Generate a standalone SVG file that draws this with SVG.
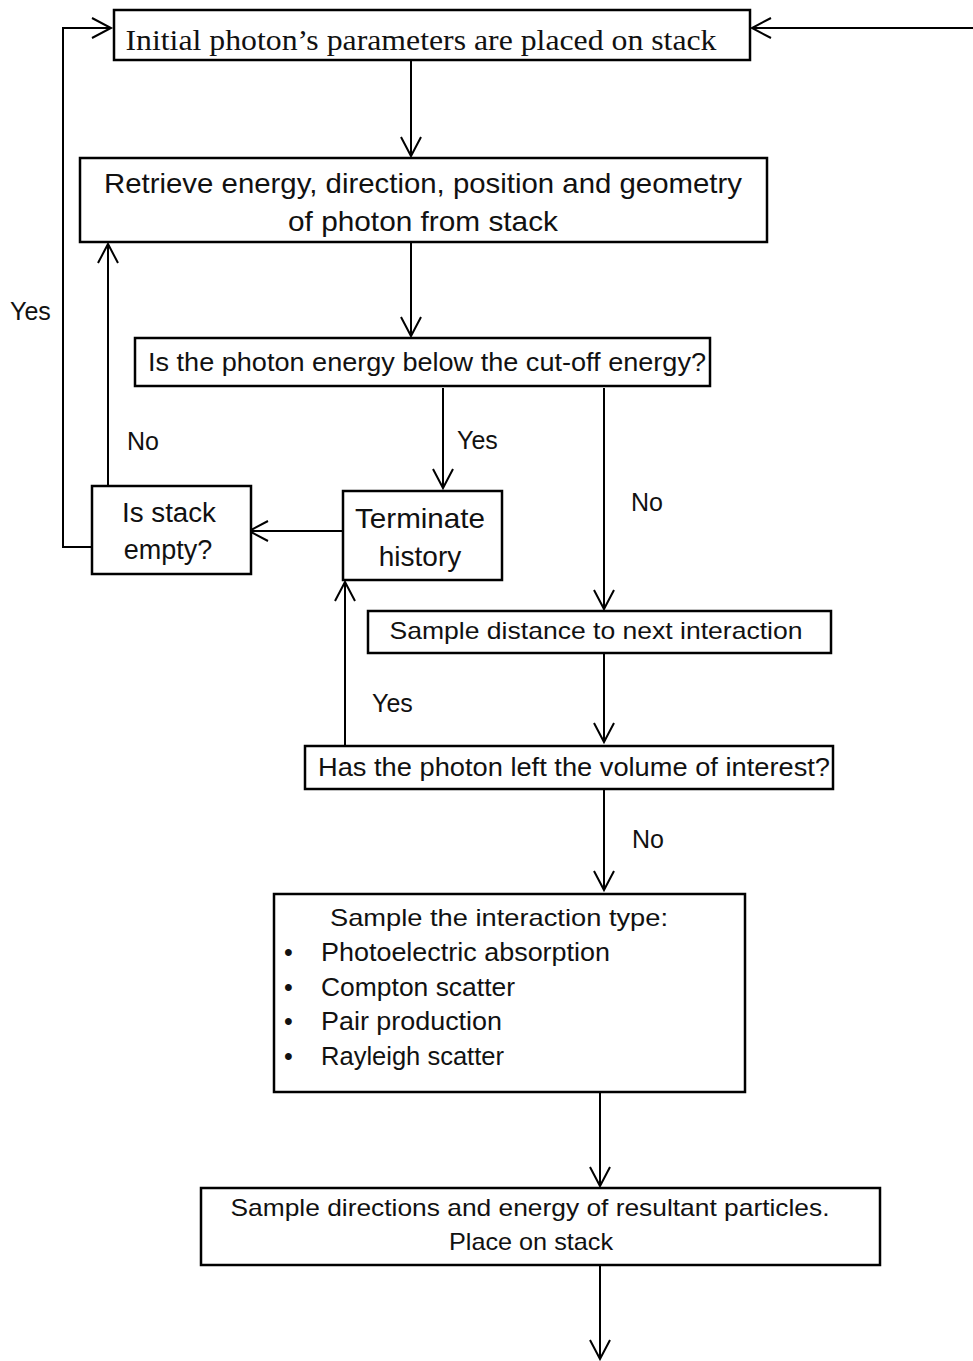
<svg xmlns="http://www.w3.org/2000/svg" width="973" height="1361" viewBox="0 0 973 1361">
<defs>
<style>
.box{fill:#fff;stroke:#000;stroke-width:2.5}
.ln{fill:none;stroke:#000;stroke-width:2}
.t{font-family:"Liberation Sans",Arial,sans-serif;fill:#111;text-anchor:middle;dominant-baseline:central}
.l{font-family:"Liberation Sans",Arial,sans-serif;fill:#111;font-size:25px;dominant-baseline:central}
.s{font-family:"Liberation Serif","Times New Roman",serif;fill:#111;text-anchor:middle;dominant-baseline:central}
</style>
<marker id="a" markerUnits="userSpaceOnUse" markerWidth="24" markerHeight="24" refX="19" refY="10" orient="auto" overflow="visible">
<path d="M0,0 L19,10 L0,20" fill="none" stroke="#000" stroke-width="2"/>
</marker>
</defs>
<rect width="973" height="1361" fill="#fff"/>
<g id="connectors">
<path class="ln" d="M411,61 V156" marker-end="url(#a)"/>
<path class="ln" d="M411,243 V336" marker-end="url(#a)"/>
<path class="ln" d="M443,388 V488" marker-end="url(#a)"/>
<path class="ln" d="M604,388 V609" marker-end="url(#a)"/>
<path class="ln" d="M343,531 H249" marker-end="url(#a)"/>
<path class="ln" d="M108,490 V244" marker-end="url(#a)"/>
<path class="ln" d="M91,547 H63 V28 H111" marker-end="url(#a)"/>
<path class="ln" d="M973,28 H752" marker-end="url(#a)"/>
<path class="ln" d="M604,654 V742" marker-end="url(#a)"/>
<path class="ln" d="M345,745 V582" marker-end="url(#a)"/>
<path class="ln" d="M604,790 V890" marker-end="url(#a)"/>
<path class="ln" d="M600,1093 V1186" marker-end="url(#a)"/>
<path class="ln" d="M600,1266 V1359" marker-end="url(#a)"/>
<text class="l" x="457" y="440">Yes</text>
<text class="l" x="631" y="502">No</text>
<text class="l" x="127" y="441">No</text>
<text class="l" x="10" y="311">Yes</text>
<text class="l" x="372" y="703">Yes</text>
<text class="l" x="632" y="839">No</text>
</g>
<g id="n1">
<rect class="box" x="114" y="10" width="636" height="50"/>
<text class="s" x="421" y="40" font-size="29" textLength="591" lengthAdjust="spacingAndGlyphs">Initial photon’s parameters are placed on stack</text>
</g>
<g id="n2">
<rect class="box" x="80" y="158" width="687" height="84"/>
<text class="t" x="423" y="183" font-size="28" textLength="638" lengthAdjust="spacingAndGlyphs">Retrieve energy, direction, position and geometry</text>
<text class="t" x="423" y="221" font-size="28" textLength="270" lengthAdjust="spacingAndGlyphs">of photon from stack</text>
</g>
<g id="n3">
<rect class="box" x="135" y="338" width="575" height="48"/>
<text class="t" x="427" y="362" font-size="26" textLength="558" lengthAdjust="spacingAndGlyphs">Is the photon energy below the cut-off energy?</text>
</g>
<g id="n4">
<rect class="box" x="343" y="491" width="159" height="89"/>
<text class="t" x="420" y="518" font-size="28" textLength="130" lengthAdjust="spacingAndGlyphs">Terminate</text>
<text class="t" x="420" y="556" font-size="28">history</text>
</g>
<g id="n5">
<rect class="box" x="92" y="486" width="159" height="88"/>
<text class="t" x="169" y="513" font-size="27" textLength="94" lengthAdjust="spacingAndGlyphs">Is stack</text>
<text class="t" x="168" y="550" font-size="27">empty?</text>
</g>
<g id="n6">
<rect class="box" x="368" y="611" width="463" height="42"/>
<text class="t" x="596" y="630" font-size="24" textLength="413" lengthAdjust="spacingAndGlyphs">Sample distance to next interaction</text>
</g>
<g id="n7">
<rect class="box" x="305" y="746" width="528" height="43"/>
<text class="t" x="574" y="767" font-size="26" textLength="512" lengthAdjust="spacingAndGlyphs">Has the photon left the volume of interest?</text>
</g>
<g id="n8">
<rect class="box" x="274" y="894" width="471" height="198"/>
<text class="t" x="499" y="917" font-size="24" textLength="338" lengthAdjust="spacingAndGlyphs">Sample  the interaction type:</text>
<text class="l" x="284" y="952" font-size="22">•</text>
<text class="l" x="321" y="952" font-size="24" textLength="289" lengthAdjust="spacingAndGlyphs">Photoelectric absorption</text>
<text class="l" x="284" y="987" font-size="22">•</text>
<text class="l" x="321" y="987" font-size="24" textLength="194" lengthAdjust="spacingAndGlyphs">Compton scatter</text>
<text class="l" x="284" y="1021" font-size="22">•</text>
<text class="l" x="321" y="1021" font-size="24" textLength="181" lengthAdjust="spacingAndGlyphs">Pair production</text>
<text class="l" x="284" y="1056" font-size="22">•</text>
<text class="l" x="321" y="1056" font-size="24" textLength="183" lengthAdjust="spacingAndGlyphs">Rayleigh scatter</text>
</g>
<g id="n9">
<rect class="box" x="201" y="1188" width="679" height="77"/>
<text class="t" x="530" y="1207" font-size="24" textLength="599" lengthAdjust="spacingAndGlyphs">Sample directions and energy of resultant particles.</text>
<text class="t" x="531" y="1241" font-size="24" textLength="164" lengthAdjust="spacingAndGlyphs">Place on stack</text>
</g>
</svg>
